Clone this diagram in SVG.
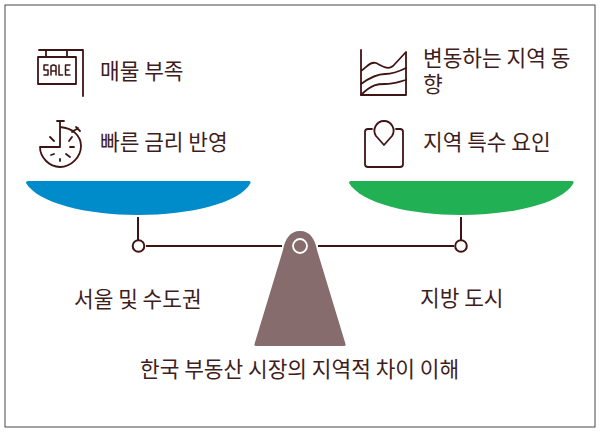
<svg xmlns="http://www.w3.org/2000/svg" width="600" height="432" viewBox="0 0 600 432">
<style>
text{font-family:"Noto Sans CJK KR","Noto Sans",sans-serif;font-size:21.4px;fill:#3f1d1d}
.i{fill:none;stroke:#3f1414;stroke-width:1.8;stroke-linecap:round;stroke-linejoin:round}
.c{fill:none;stroke:#3f1414;stroke-width:2}
.p{fill:#fff;stroke:#3f1414;stroke-width:2}
</style>
<rect x="5" y="5" width="590" height="422" fill="#fff" stroke="#666" stroke-width="1.2"/>
<g id="connectors">
<path class="c" d="M138 217V240M146 246H282M318 246H454M461 217V240"/>
</g>
<g id="pan-left"><path fill="#008ccb" d="M26 183Q26 181 28 181H249Q251 181 250.500 183C240 203 190 215 138 215C86 215 38 203 26 183Z"/></g>
<g id="pan-right"><path fill="#21b053" d="M349 183Q349 181 351 181H572Q574 181 573.500 183C563 203 513 215 461 215C409 215 361 203 349 183Z"/></g>
<g id="pivot-left"><circle class="p" cx="138.500" cy="246" r="5.800"/></g>
<g id="pivot-right"><circle class="p" cx="461" cy="246" r="5.800"/></g>
<g id="fulcrum">
<path fill="#866c6c" d="M283 250C285 239 290 231 300 231C310 231 315 239 317 250L345.500 344Q346 346 344 346H256Q254 346 254.500 344Z"/>
<circle cx="300" cy="246" r="7" fill="none" stroke="#fff" stroke-width="1.800"/>
</g>
<g id="icon-sale" class="i">
<path d="M39 50H83V96M46 50V57M67 50V57"/>
<rect x="38" y="57" width="38" height="27"/>
<path stroke-width="1.500" d="M48 65H44V70H48V75H44M51 75V66L53 65H54L56 66V75M51 71H56M59 65V75H62.500M70 65H65.500V75H70M65.500 70H69"/>
</g>
<g id="icon-stopwatch" class="i">
<path d="M57 121H64M60 121V147H40C40 157 49 167 60 167C71 167 81 157 81 146C81 136 73 128 60 127"/>
<path d="M72 132L78 128M76 127L80 131M50 137L54 141M69 141L72 137M70 147H74M51 155L54 154M60 159V161M66 154L70 157"/>
</g>
<g id="icon-chart" class="i">
<path d="M361 50V95H406V52L393 66C388 70 384 67 376 63C370 61 366 68 361 71"/>
<path d="M361 84C372 76 378 74 385 74C392 74 398 72 406 68"/>
<path d="M361 95C372 84 378 84 385 84C393 84 398 82 406 80"/>
</g>
<g id="icon-pin" class="i">
<path d="M372 129H368Q365 129 365 132V164Q365 167 368 167H400Q403 167 403 164V132Q403 129 400 129H396"/>
<path d="M384 145L376 136C372 130 376 121 384 121C392 121 396 130 392 136Z"/>
</g>
<g id="label-tl"><text x="100" y="79">매물 부족</text></g>
<g id="label-ml"><text x="100" y="150">빠른 금리 반영</text></g>
<g id="label-tr"><text x="423" y="66">변동하는 지역 동</text><text x="423" y="92">향</text></g>
<g id="label-mr"><text x="423" y="150">지역 특수 요인</text></g>
<g id="label-seoul"><text x="74" y="307">서울 및 수도권</text></g>
<g id="label-local"><text x="420" y="306">지방 도시</text></g>
<g id="title"><text x="140" y="377">한국 부동산 시장의 지역적 차이 이해</text></g>
</svg>
